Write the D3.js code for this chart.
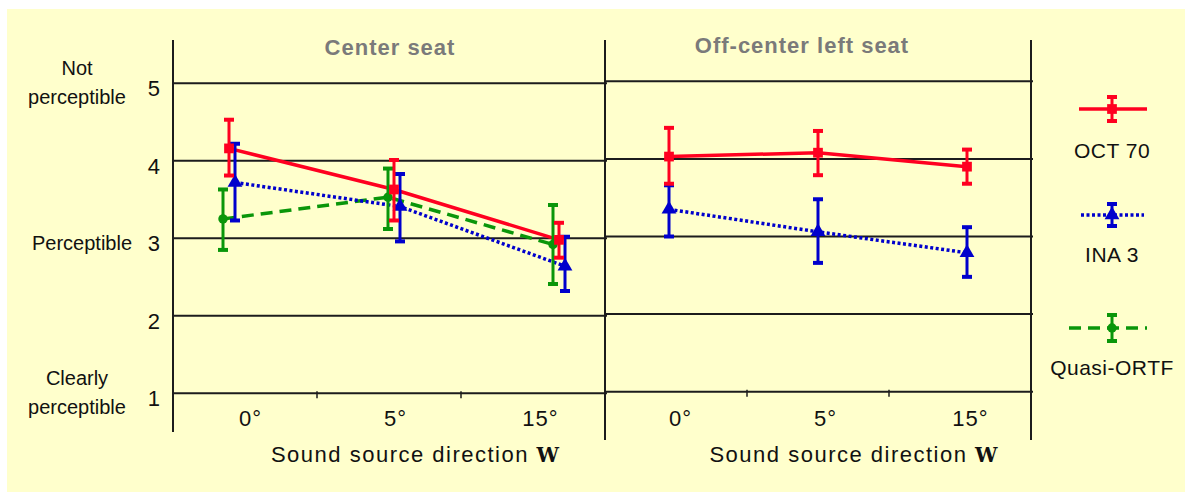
<!DOCTYPE html>
<html>
<head>
<meta charset="utf-8">
<script src="https://cdn.jsdelivr.net/npm/d3@7"></script>
<style>
  html, body { margin: 0; padding: 0; background: #fff; }
  svg text { font-family: 'Liberation Sans', Arial, Helvetica, sans-serif; fill: #111; }
</style>
</head>
<body>
<div id="chart"></div>
<script>
// ---- data ----
const directions = ['0°', '5°', '15°'];
const seatTitles = ['Center seat', 'Off-center left seat'];
const scoreTicks = [1, 2, 3, 4, 5];
const scoreLabelValues = [5, 3, 1];
const scoreLabels = [['Not', 'perceptible'], ['Perceptible'], ['Clearly', 'perceptible']];
const seriesNames = ['OCT 70', 'INA 3', 'Quasi-ORTF'];

// center seat
const octCenter = [4.16, 3.63, 2.98];
const octCenterLow = [3.81, 3.23, 2.75];
const octCenterHigh = [4.53, 4.01, 3.20];
const inaCenter = [3.72, 3.41, 2.64];
const inaCenterLow = [3.23, 2.96, 2.32];
const inaCenterHigh = [4.22, 3.83, 3.02];
const quasiCenter = [3.25, 3.53, 2.92];
const quasiCenterLow = [2.85, 3.12, 2.41];
const quasiCenterHigh = [3.63, 3.90, 3.43];

// off-center left seat
const octLeft = [4.03, 4.08, 3.90];
const octLeftLow = [3.68, 3.79, 3.68];
const octLeftHigh = [4.40, 4.36, 4.12];
const inaLeft = [3.35, 3.06, 2.79];
const inaLeftLow = [3.00, 2.66, 2.48];
const inaLeftHigh = [3.66, 3.48, 3.12];

function Chart() {
  // Exposed variables
  var attrs = {
    svgWidth: 1185,
    svgHeight: 492,
    container: '#chart',
    background: '#ffffcc',
    gridColor: '#1c1c1c',
    titleColor: '#7a7a7a'
  };

  var styles = {
    'OCT 70': { color: '#ff0020', dash: null, width: 3.5, symbol: d3.symbolSquare, size: 95 },
    'INA 3': { color: '#0000cc', dash: '3,2.5', width: 3.5, symbol: d3.symbolTriangle, size: 95 },
    'Quasi-ORTF': { color: '#0a960a', dash: '12,7', width: 3.5, symbol: d3.symbolCircle, size: 70 }
  };

  var main = function () {
    var svg = d3.select(attrs.container).append('svg')
      .attr('width', attrs.svgWidth)
      .attr('height', attrs.svgHeight);

    svg.append('rect')
      .attr('x', 7).attr('y', 9)
      .attr('width', attrs.svgWidth - 7)
      .attr('height', attrs.svgHeight - 9)
      .attr('fill', attrs.background);

    var panels = [
      {
        title: seatTitles[0], x0: 173, x1: 605, yRange: [393.3, 83.3],
        points: [229, 559], labels: [250.5, 540.5], titleY: 55, titleX: 390, axisX: 415,
        series: [
          { name: seriesNames[2], mean: quasiCenter, low: quasiCenterLow, high: quasiCenterHigh, dx: -6 },
          { name: seriesNames[1], mean: inaCenter, low: inaCenterLow, high: inaCenterHigh, dx: 6 },
          { name: seriesNames[0], mean: octCenter, low: octCenterLow, high: octCenterHigh, dx: 0 }
        ]
      },
      {
        title: seatTitles[1], x0: 605, x1: 1031, yRange: [391.7, 81.3],
        points: [669, 967], labels: [680.5, 970.5], titleY: 53, titleX: 802, axisX: 853.5,
        series: [
          { name: seriesNames[1], mean: inaLeft, low: inaLeftLow, high: inaLeftHigh, dx: 0 },
          { name: seriesNames[0], mean: octLeft, low: octLeftLow, high: octLeftHigh, dx: 0 }
        ]
      }
    ];

    panels.forEach(drawPanel);

    // vertical frame lines
    [[173, 432], [605, 440], [1031, 440]].forEach(function (d) {
      svg.append('line')
        .attr('x1', d[0]).attr('x2', d[0])
        .attr('y1', 40).attr('y2', d[1])
        .attr('stroke', attrs.gridColor).attr('stroke-width', 2);
    });

    // y score labels
    var yLeft = d3.scaleLinear().domain([1, 5]).range(panels[0].yRange);
    svg.append('g').selectAll('text').data(scoreTicks).join('text')
      .attr('x', 160)
      .attr('y', d => yLeft(d) + 13)
      .attr('text-anchor', 'end')
      .style('font-size', '22px')
      .text(d => d);

    var labelGroup = svg.append('g');
    scoreLabelValues.forEach(function (v, i) {
      var lines = scoreLabels[i];
      var baseY = lines.length === 1 ? yLeft(v) + 12 : yLeft(v) - 8;
      var cx = lines.length === 1 ? 82 : 77;
      lines.forEach(function (line, j) {
        labelGroup.append('text')
          .attr('x', cx)
          .attr('y', baseY + j * 28.5)
          .attr('text-anchor', 'middle')
          .style('font-size', '20px')
          .text(line);
      });
    });

    drawLegend();

    function drawPanel(p) {
      var g = svg.append('g');
      var y = d3.scaleLinear().domain([1, 5]).range(p.yRange);
      var x = d3.scaleLinear().domain([0, directions.length - 1]).range(p.points);
      var xLabel = d3.scaleLinear().domain([0, directions.length - 1]).range(p.labels);
      var third = (p.x1 - p.x0) / directions.length;

      // grid lines
      g.selectAll('.grid').data(scoreTicks).join('line')
        .attr('class', 'grid')
        .attr('x1', p.x0).attr('x2', p.x1 + 2)
        .attr('y1', d => y(d)).attr('y2', d => y(d))
        .attr('stroke', attrs.gridColor).attr('stroke-width', 2);

      // small category separators on the base line
      g.selectAll('.sep').data([1, 2]).join('line')
        .attr('class', 'sep')
        .attr('x1', d => p.x0 + d * third).attr('x2', d => p.x0 + d * third)
        .attr('y1', y(1) - 2).attr('y2', y(1) + 5)
        .attr('stroke', attrs.gridColor).attr('stroke-width', 1.5);

      // category labels
      g.selectAll('.cat').data(directions).join('text')
        .attr('class', 'cat')
        .attr('x', (d, i) => xLabel(i))
        .attr('y', 426)
        .attr('text-anchor', 'middle')
        .style('font-size', '22px')
        .style('letter-spacing', '1px')
        .text(d => d);

      var axisTitle = g.append('text')
        .attr('x', p.axisX)
        .attr('y', 461.5)
        .attr('text-anchor', 'middle')
        .style('font-size', '22px')
        .style('letter-spacing', '1.5px');
      axisTitle.append('tspan').text('Sound source direction ');
      axisTitle.append('tspan')
        .style('font-family', "'DejaVu Serif', serif")
        .style('font-weight', 'bold')
        .style('letter-spacing', '0px')
        .style('font-size', '20px')
        .text('W');

      // panel title
      g.append('text')
        .attr('x', p.titleX)
        .attr('y', p.titleY)
        .attr('text-anchor', 'middle')
        .style('font-size', '22px')
        .style('font-weight', 'bold')
        .style('letter-spacing', '1px')
        .style('fill', attrs.titleColor)
        .text(p.title);

      // connecting lines
      var line = d3.line().x(d => d.x).y(d => d.y);
      p.series.forEach(function (s) {
        var st = styles[s.name];
        var pts = s.mean.map((v, i) => ({ x: x(i) + s.dx, y: y(v) }));
        g.append('path')
          .attr('d', line(pts))
          .attr('fill', 'none')
          .attr('stroke', st.color)
          .attr('stroke-width', st.width)
          .attr('stroke-dasharray', st.dash);
      });

      // error bars and markers
      p.series.forEach(function (s) {
        var st = styles[s.name];
        s.mean.forEach(function (v, i) {
          drawMarker(g, x(i) + s.dx, y(v), y(s.high[i]), y(s.low[i]), st);
        });
      });
    }

    function drawMarker(g, cx, cy, yHigh, yLow, st) {
      g.append('line')
        .attr('x1', cx).attr('x2', cx)
        .attr('y1', yHigh).attr('y2', yLow)
        .attr('stroke', st.color).attr('stroke-width', 3);
      [yHigh, yLow].forEach(function (yy) {
        g.append('line')
          .attr('x1', cx - 5).attr('x2', cx + 5)
          .attr('y1', yy).attr('y2', yy)
          .attr('stroke', st.color).attr('stroke-width', 4);
      });
      g.append('path')
        .attr('d', d3.symbol().type(st.symbol).size(st.size)())
        .attr('transform', 'translate(' + cx + ',' + cy + ')')
        .attr('fill', st.color);
    }

    function drawLegend() {
      var legend = [
        { name: seriesNames[0], y: 109, x1: 1079, x2: 1147, half: 12, labelY: 158 },
        { name: seriesNames[1], y: 215, x1: 1081, x2: 1144, half: 11, labelY: 262 },
        { name: seriesNames[2], y: 328, x1: 1069, x2: 1147, half: 13, labelY: 375 }
      ];
      var lg = svg.append('g');
      legend.forEach(function (d) {
        var st = styles[d.name];
        lg.append('line')
          .attr('x1', d.x1).attr('x2', d.x2)
          .attr('y1', d.y).attr('y2', d.y)
          .attr('stroke', st.color)
          .attr('stroke-width', st.width)
          .attr('stroke-dasharray', st.dash);
        drawMarker(lg, 1112, d.y, d.y - d.half, d.y + d.half, st);
        lg.append('text')
          .attr('x', 1112)
          .attr('y', d.labelY)
          .attr('text-anchor', 'middle')
          .style('font-size', '21px')
          .style('letter-spacing', '0.5px')
          .text(d.name);
      });
    }
  };

  main.render = function () {
    main();
    return main;
  };

  return main;
}

Chart().render();
</script>
</body>
</html>
